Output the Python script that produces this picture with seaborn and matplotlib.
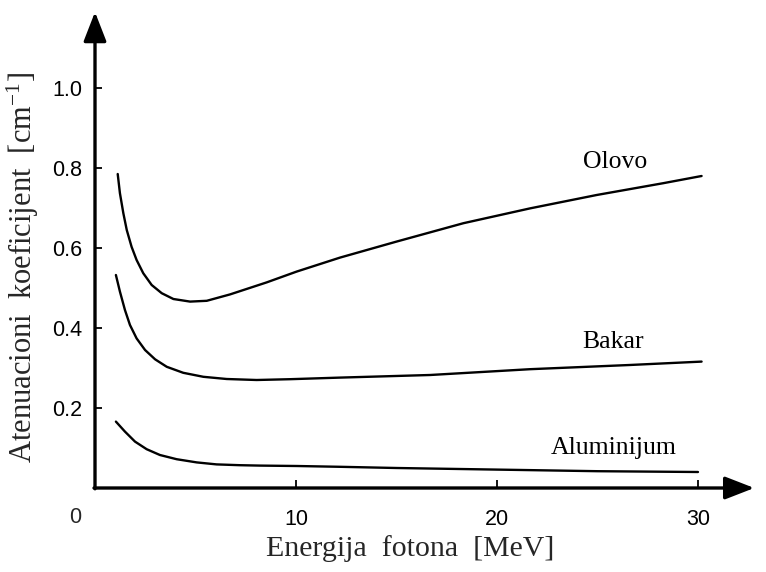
import matplotlib
matplotlib.use("Agg")
import matplotlib.pyplot as plt
import seaborn as sns
import pandas as pd

# Attenuation coefficient vs. photon energy for three materials
olovo_e = [1.13, 1.24, 1.41, 1.58, 1.82, 2.07, 2.40, 2.82, 3.32, 3.90, 4.73,
           5.56, 6.72, 8.54, 10.03, 12.19, 15.0, 18.33, 21.64, 24.96, 28.27, 30.18]
olovo_mu = [0.785, 0.737, 0.687, 0.645, 0.603, 0.570, 0.537, 0.5075, 0.487,
            0.4725, 0.466, 0.468, 0.484, 0.514, 0.541, 0.576, 0.616, 0.662,
            0.699, 0.7325, 0.762, 0.780]

bakar_e = [1.04, 1.24, 1.49, 1.74, 2.07, 2.49, 2.99, 3.57, 4.39, 5.39, 6.55,
           8.04, 9.70, 12.19, 16.67, 21.64, 26.6, 30.18]
bakar_mu = [0.5325, 0.491, 0.445, 0.4075, 0.374, 0.345, 0.3217, 0.303, 0.288,
            0.278, 0.2725, 0.270, 0.272, 0.276, 0.2825, 0.297, 0.3075, 0.316]

alu_e = [1.04, 1.49, 1.99, 2.57, 3.23, 4.06, 5.06, 6.05, 7.21, 8.21, 10.03,
         12.19, 15.0, 20.0, 25.0, 30.0]
alu_mu = [0.166, 0.141, 0.116, 0.097, 0.0825, 0.072, 0.064, 0.059, 0.057,
          0.056, 0.055, 0.053, 0.050, 0.046, 0.042, 0.040]

materials = ["Olovo", "Bakar", "Aluminijum"]
label_pos = {"Olovo": (25.9, 0.816), "Bakar": (25.8, 0.366), "Aluminijum": (25.8, 0.099)}

x_ticks = [10, 20, 30]
y_ticks = [0.2, 0.4, 0.6, 0.8, 1.0]
y_tick_labels = ["0.2", "0.4", "0.6", "0.8", "1.0"]

df = pd.concat([
    pd.DataFrame({"E": olovo_e, "mu": olovo_mu, "mat": "Olovo"}),
    pd.DataFrame({"E": bakar_e, "mu": bakar_mu, "mat": "Bakar"}),
    pd.DataFrame({"E": alu_e, "mu": alu_mu, "mat": "Aluminijum"}),
], ignore_index=True)

sns.set_theme(style="white")
plt.rcParams["font.family"] = ["Liberation Sans", "DejaVu Sans"]
plt.rcParams["mathtext.fontset"] = "custom"
plt.rcParams["mathtext.rm"] = "Liberation Serif"
plt.rcParams["mathtext.it"] = "Liberation Serif:italic"

W, H = 766, 572
fig = plt.figure(figsize=(W / 100, H / 100), dpi=100)
ax = fig.add_axes([95 / W, 84 / H, 669.3 / W, 480 / H])

sns.lineplot(data=df, x="E", y="mu", hue="mat", hue_order=materials,
             palette=["black"] * 3, estimator=None, sort=False,
             linewidth=1.7, legend=False, ax=ax)
for ln in ax.get_lines():
    ln.set_solid_joinstyle("round")
    ln.set_solid_capstyle("round")

ax.set_xlim(0, 33.3)
ax.set_ylim(0, 1.2)
for s in ax.spines.values():
    s.set_visible(False)
ax.set_xlabel("")
ax.set_ylabel("")

ax.set_xticks(x_ticks)
ax.set_xticklabels([str(t) for t in x_ticks])
ax.set_yticks(y_ticks)
ax.set_yticklabels(y_tick_labels)
ax.tick_params(axis="x", direction="in", length=6, width=1.3, pad=15,
               labelsize=15.5, color="black", labelcolor="black", bottom=True)
ax.tick_params(axis="y", direction="in", length=5, width=1.3, pad=9,
               labelsize=15.5, color="black", labelcolor="black", left=True)

# axis lines with arrowheads
arrow = dict(arrowstyle="-|>,head_length=0.9,head_width=0.35", lw=2.4,
             color="black", shrinkA=0, shrinkB=0, mutation_scale=20)
ax.annotate("", xy=(0, 1.19), xytext=(0, -0.002), arrowprops=arrow,
            annotation_clip=False)
ax.annotate("", xy=(32.8, 0), xytext=(-0.05, 0), arrowprops=arrow,
            annotation_clip=False)

ax.annotate("0", xy=(0, 0), xytext=(-14.5, -21.5), textcoords="offset points",
            ha="center", va="center", fontsize=15.5, annotation_clip=False)

for m in materials:
    x, y = label_pos[m]
    ax.text(x, y, m, ha="center", va="center", fontsize=18.5,
            family="Liberation Serif", color="black")

fig.text(410 / W, 1 - 549 / H, "Energija  fotona  [MeV]", ha="center",
         va="center", fontsize=21.5, family="Liberation Serif")
fig.text(23 / W, 1 - 268 / H,
         r"Atenuacioni  koeficijent  [cm$^{\mathregular{-1}}$]",
         ha="center", va="center", rotation=90, fontsize=22,
         family="Liberation Serif")

fig.savefig("out.png", dpi=100)
